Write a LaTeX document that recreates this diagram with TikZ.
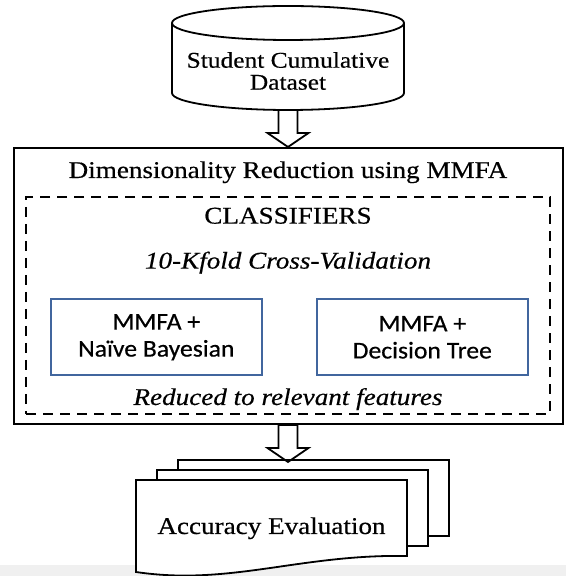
\documentclass[tikz,border=0pt]{standalone}
\usepackage{fontspec}
\setmainfont{Liberation Serif}[FakeStretch=1.13,FakeBold=0.5]
\newfontfamily\calibri{Carlito}[FakeStretch=1.07,FakeBold=0.5]
\usetikzlibrary{positioning}
\usetikzlibrary{calc}

\definecolor{boxblue}{HTML}{41669E}

\begin{document}
\begin{tikzpicture}[x=1pt,y=1pt,font=\fontsize{24}{25}\selectfont,
                    cyl/.style={draw,line width=1.8pt},
                    box node/.style={draw,line width=2pt,minimum width=549pt,minimum height=276pt},
                    dash node/.style={draw,line width=2.4pt,dash pattern=on 10pt off 7pt,
                                      minimum width=524pt,minimum height=217pt},
                    clf node/.style={draw=boxblue,line width=2pt,minimum width=211pt,minimum height=76pt,
                                     align=center,font=\calibri\fontsize{24}{27}\selectfont},
                    text node/.style={anchor=base,inner sep=0pt},
                    sheet/.style={draw,fill=white,line width=1.8pt},
                    block/.style={draw,line width=1.8pt,to path={let \p1=(\tikztostart),\p2=(\tikztotarget) in
                      (\x1-9.5pt,\y1) -- (\x1-9.5pt,\y2+14pt) -- (\x1-20.5pt,\y2+14pt) -- (\x1,\y2)
                      -- (\x1+20.5pt,\y2+14pt) -- (\x1+9.5pt,\y2+14pt) -- (\x1+9.5pt,\y1) -- cycle}}]

  \useasboundingbox (0,0) rectangle (566,576);
  \fill[black!6] (0,0) rectangle (566,11);

  \draw[cyl] (172,553) -- (172,483) arc[start angle=180,end angle=360,x radius=116,y radius=17] -- (404,553);
  \draw[cyl] (288,553) ellipse[x radius=116,y radius=17];
  \node[inner sep=0pt,align=center,font=\fontsize{22.5}{22}\selectfont] (1) at (288,505)
    {Student Cumulative\\Dataset};
  \coordinate (0) at (288,466);

  \node[box node] (2) [below=37pt of 0] {};
  \node[text node] (3) at ([yshift=-31pt]2.north) {Dimensionality Reduction using MMFA};
  \node[dash node] (4) [above=10pt of 2.south] {};
  \node[text node] (5) at ([yshift=-28pt]4.north) {CLASSIFIERS};
  \node[text node] (6) at ([yshift=-73pt]4.north) {\itshape 10-Kfold Cross-Validation};
  \node[clf node] (7) [right=25pt of 4.west,yshift=-32pt] {MMFA +\\Naïve Bayesian};
  \node[clf node] (8) [right=53pt of 7] {MMFA +\\Decision Tree};
  \node[text node] (9) at ([yshift=10pt]4.south) {\itshape Reduced to relevant features};

  \foreach \d in {2,1,0}
    \draw[sheet,shift={(21*\d,10*\d)}] (136,96) -- (407,96) -- (407,20)
      .. controls (300,22) and (230,-10) .. (136,4) -- cycle;
  \node[text node] (10) at (271.5,42) {Accuracy Evaluation};
  \coordinate (11) at ([yshift=-37pt]2.south);

  \draw[block] (0) to (2.north);
  \draw[block] (2.south) to (11);
\end{tikzpicture}
\end{document}
